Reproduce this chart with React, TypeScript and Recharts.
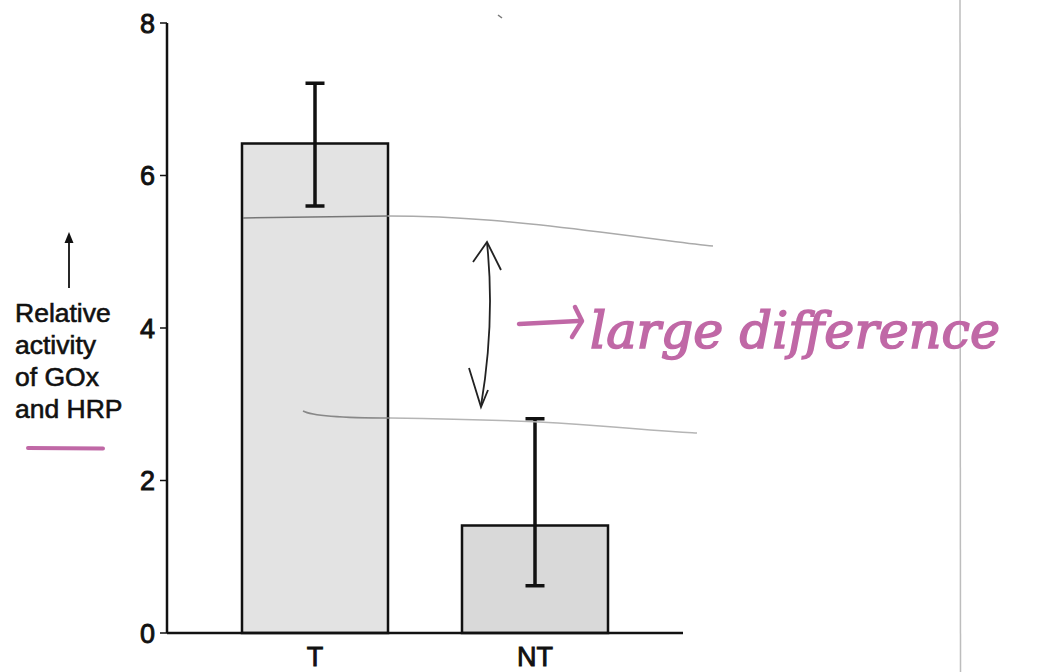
import React from 'react';
import { BarChart, Bar, XAxis, YAxis, ErrorBar, Cell } from 'recharts';

const categories = ['T', 'NT'];
const activityValues = [6.42, 1.41];
const errorLow = [0.82, 0.79];
const errorHigh = [0.79, 1.4];
const barFills = ['#e3e3e3', '#d9d9d9'];
const yTicks = [0, 2, 4, 6, 8];
const yLabelLines = ['Relative', 'activity', 'of GOx', 'and HRP'];
const annotationText = 'large difference';

const data = categories.map((name, i) => ({
  name,
  value: activityValues[i],
  err: [errorLow[i], errorHigh[i]],
}));

const FONT = 'Arial, "Liberation Sans", Helvetica, sans-serif';
const INK = '#111';
const PINK = '#c068a6';

export default function App() {
  return (
    <div style={{ position: 'absolute', left: 0, top: 0, width: 1044, height: 672, background: '#fff' }}>
      <BarChart
        width={1044}
        height={672}
        data={data}
        margin={{ top: 23, right: 361, bottom: 0, left: 107 }}
      >
        <XAxis
          dataKey="name"
          height={39}
          padding={{ left: 38, right: 38 }}
          tickLine={false}
          tickSize={0}
          tickMargin={14}
          axisLine={{ stroke: INK, strokeWidth: 2.5 }}
          tick={{ fill: INK, fontSize: 27, fontFamily: FONT, stroke: INK, strokeWidth: 0.9 }}
        />
        <YAxis
          width={60}
          domain={[0, 8]}
          ticks={yTicks}
          interval={0}
          tickSize={7}
          tickMargin={5}
          axisLine={{ stroke: INK, strokeWidth: 2.5 }}
          tickLine={{ stroke: INK, strokeWidth: 1.5 }}
          tick={{ fill: INK, fontSize: 27, fontFamily: FONT, stroke: INK, strokeWidth: 0.9 }}
        />
        <Bar dataKey="value" barSize={146} stroke={INK} strokeWidth={2.5} isAnimationActive={false}>
          {data.map((d, i) => (
            <Cell key={d.name} fill={barFills[i]} />
          ))}
          <ErrorBar dataKey="err" direction="y" width={9.5} stroke={INK} strokeWidth={3.5} isAnimationActive={false} />
        </Bar>
      </BarChart>
      <svg
        width={1044}
        height={672}
        style={{ position: 'absolute', left: 0, top: 0, pointerEvents: 'none' }}
      >
        {/* page edge */}
        <line x1={960} y1={0} x2={960.5} y2={672} stroke="#bdbdbd" strokeWidth={1.5} />
        <line x1={498} y1={15} x2={502} y2={18} stroke="#777" strokeWidth={1.5} />
        {/* y label arrow */}
        <line x1={69} y1={288} x2={69} y2={240} stroke={INK} strokeWidth={1.8} />
        <path d="M64.5,243 L69,232 L73.5,243 Z" fill={INK} />
        <text fontFamily={FONT} fontSize={26.5} fill={INK} stroke={INK} strokeWidth={0.6}>
          {yLabelLines.map((line, i) => (
            <tspan key={line} x={15} y={322 + i * 32}>
              {line}
            </tspan>
          ))}
        </text>
        <line x1={28} y1={448} x2={103} y2={448.5} stroke={PINK} strokeWidth={4} strokeLinecap="round" />
        {/* hand-drawn guide lines */}
        <path d="M243,218 L388,216" stroke="#777" strokeWidth={1.5} fill="none" />
        <path d="M388,216 C460,216 520,222 600,232 S690,244 713,246" stroke="#aaa" strokeWidth={1.5} fill="none" />
        <path d="M303,411 C312,416 340,418 390,418" stroke="#888" strokeWidth={1.5} fill="none" />
        <path d="M390,418 C470,419 540,421 600,426 S680,432 697,433" stroke="#b5b5b5" strokeWidth={1.5} fill="none" />
        {/* double arrow */}
        <path d="M487,243 C492,290 492,340 481,406" stroke="#222" strokeWidth={1.8} fill="none" />
        <path d="M473,262 L487,242 L501,270" stroke="#222" strokeWidth={1.8} fill="none" />
        <path d="M469,368 L481,407 L488,390" stroke="#222" strokeWidth={1.8} fill="none" />
        {/* pink annotation */}
        <path d="M519,324 L578,321" stroke={PINK} strokeWidth={4.5} strokeLinecap="round" fill="none" />
        <path d="M575,307 L582,321 L572,337" stroke={PINK} strokeWidth={4.5} strokeLinecap="round" strokeLinejoin="round" fill="none" />
        <text
          x={590}
          y={348}
          fontFamily='"DejaVu Serif", serif'
          fontStyle="italic"
          fontSize={50}
          fill={PINK}
          stroke={PINK}
          strokeWidth={1.6}
          textLength={410}
          lengthAdjust="spacingAndGlyphs"
        >
          {annotationText}
        </text>
      </svg>
    </div>
  );
}
